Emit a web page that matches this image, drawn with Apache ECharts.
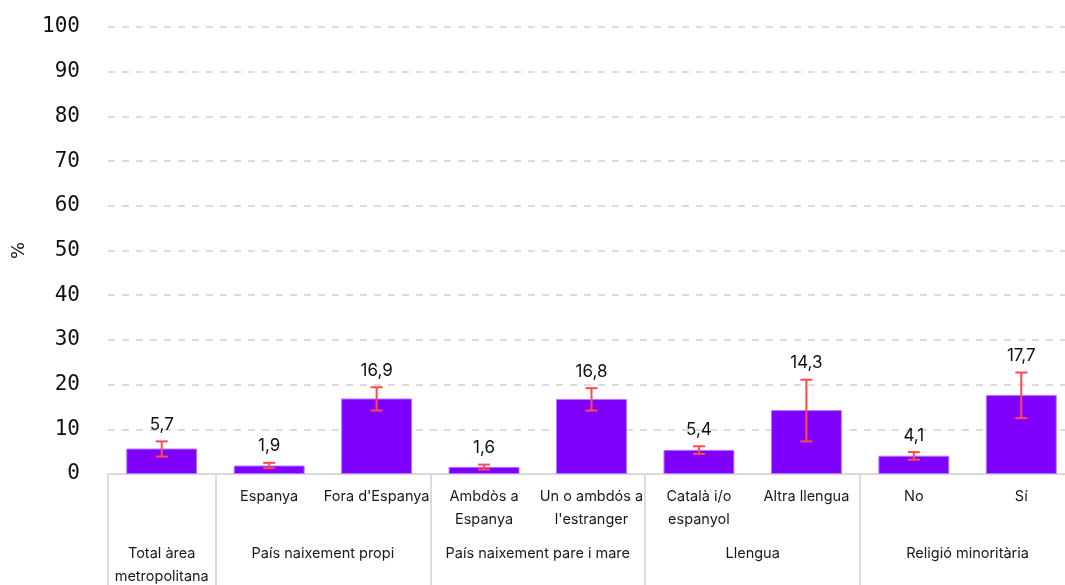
<!DOCTYPE html>
<head>
  <meta charset="utf-8">
  <title>Percentatge per grups</title>
  <script src="https://cdn.jsdelivr.net/npm/echarts@6/dist/echarts.min.js"></script>
  <style>
    html, body { margin: 0; padding: 0; background: #fff; }
  </style>
</head>
<body>
  <div id="main" style="width: 1065px;height:585px;"></div>
  <script>
    // sub-categories (one per bar) and the groups they belong to
    var categories = ['', 'Espanya', "Fora d'Espanya", 'Ambdòs a\nEspanya', "Un o ambdós a\nl'estranger",
                      'Català i/o\nespanyol', 'Altra llengua', 'No', 'Sí'];
    var groups = ['Total àrea\nmetropolitana', 'País naixement propi', 'País naixement pare i mare',
                  'Llengua', 'Religió minoritària'];
    var groupSizes = [1, 2, 2, 2, 2];

    var values = [5.7, 1.9, 16.9, 1.6, 16.8, 5.4, 14.3, 4.1, 17.7];
    var lower = [3.9, 1.3, 14.2, 1.0, 14.2, 4.5, 7.3, 3.2, 12.5];
    var upper = [7.3, 2.5, 19.4, 2.1, 19.2, 6.2, 21.1, 4.9, 22.7];

    var yTicks = [0, 10, 20, 30, 40, 50, 60, 70, 80, 90, 100];

    // group boundaries and centres on a 0..n value axis
    var bounds = [0], centres = [];
    groupSizes.forEach(function (s, i) {
      var start = bounds[bounds.length - 1];
      bounds.push(start + s);
      centres.push(start + s / 2);
    });

    var fmt = function (v) { return String(v.toFixed(1)).replace('.', ','); };

    var myChart = echarts.init(document.getElementById('main'));

    var option = {
      animation: false,
      textStyle: { fontFamily: 'Inter' },
      // the plot runs a little past the right edge of the picture
      grid: { left: 108, right: -10, top: 27, bottom: 111, containLabel: false, outerBoundsMode: 'none' },
      xAxis: [{
        type: 'category',
        data: categories,
        axisLine: { lineStyle: { color: '#d9d9d9', width: 2 } },
        axisTick: { show: false },
        axisLabel: { interval: 0, margin: 11, fontSize: 14.5, lineHeight: 23, color: '#1a1a1a', fontFamily: 'Inter' }
      }, {
        type: 'value',
        min: 0,
        max: categories.length,
        position: 'bottom',
        axisLine: { show: false },
        splitLine: { show: false },
        axisTick: {
          show: true,
          customValues: bounds,
          length: 112,
          lineStyle: { color: '#dcdcdc', width: 2 }
        },
        axisLabel: {
          customValues: centres,
          margin: 68,
          fontSize: 14.5,
          lineHeight: 23,
          color: '#1a1a1a',
          fontFamily: 'Inter',
          verticalAlign: 'top',
          formatter: function (v) {
            var i = centres.indexOf(v);
            return i >= 0 ? groups[i] : '';
          }
        }
      }],
      yAxis: {
        type: 'value',
        min: yTicks[0],
        max: yTicks[yTicks.length - 1],
        interval: 10,
        name: '%',
        nameLocation: 'middle',
        nameRotate: 90,
        nameGap: 80,
        nameTextStyle: { fontSize: 18, color: '#111', fontFamily: 'DejaVu Sans' },
        axisLine: { show: false },
        axisTick: { show: false },
        axisLabel: { margin: 28, fontSize: 21, color: '#111', fontFamily: 'DejaVu Sans Mono' },
        splitLine: { lineStyle: { color: '#dcdcdc', width: 2, type: [7, 7] } }
      },
      series: [{
        type: 'bar',
        data: values,
        barWidth: '66%',
        itemStyle: { color: '#8000ff', borderColor: '#b27aff', borderWidth: 1 }
      }, {
        type: 'custom',
        data: values.map(function (v, i) { return [i, lower[i], upper[i], v]; }),
        z: 10,
        renderItem: function (params, api) {
          var idx = api.value(0);
          var lo = api.coord([idx, api.value(1)]);
          var hi = api.coord([idx, api.value(2)]);
          var half = 6;
          var style = { stroke: '#ff4a4a', lineWidth: 2 };
          return {
            type: 'group',
            children: [
              { type: 'line', shape: { x1: hi[0], y1: hi[1], x2: lo[0], y2: lo[1] }, style: style },
              { type: 'line', shape: { x1: hi[0] - half, y1: hi[1], x2: hi[0] + half, y2: hi[1] }, style: style },
              { type: 'line', shape: { x1: lo[0] - half, y1: lo[1], x2: lo[0] + half, y2: lo[1] }, style: style },
              {
                type: 'text',
                style: {
                  text: fmt(api.value(3)),
                  x: hi[0],
                  y: hi[1] - 8,
                  align: 'center',
                  verticalAlign: 'bottom',
                  fontSize: 17,
                  fontFamily: 'Inter',
                  fill: '#111'
                }
              }
            ]
          };
        }
      }]
    };

    myChart.setOption(option);
  </script>
</body>
